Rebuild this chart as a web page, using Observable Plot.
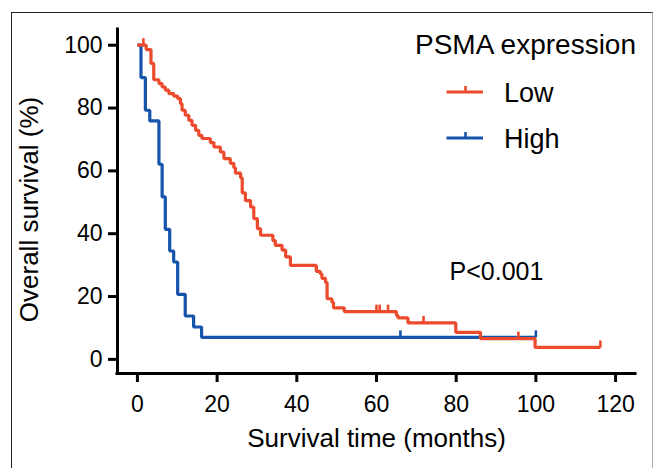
<!DOCTYPE html>
<html><head><meta charset="utf-8">
<script src="https://cdn.jsdelivr.net/npm/d3@7"></script>
<script src="https://cdn.jsdelivr.net/npm/@observablehq/plot@0.6"></script>
<style>
html,body{margin:0;padding:0;background:#fff;}
body{width:658px;height:468px;position:relative;overflow:hidden;font-family:"Liberation Sans",Arial,Helvetica,sans-serif;}
#chart{position:absolute;left:0;top:0;}
#frame{position:absolute;left:11px;top:12px;width:640px;height:470px;border-left:1.5px solid #222;border-top:1.5px solid #222;border-right:1px solid #aaa;pointer-events:none;}
#legend{position:absolute;left:0;top:0;pointer-events:none;}
</style></head><body>
<div id="chart"></div>
<div id="frame"></div>
<svg id="legend" width="658" height="468"></svg>
<script>
// ---- data ----
const groups = ["Low", "High"];
const groupColors = ["#EC4A2C", "#1653AA"];
const legendTitle = "PSMA expression";

const lowTime = [0, 2.2, 3.4, 4.1, 5.4, 6.2, 7.0, 7.9, 9.1, 10.1, 10.8, 11.2, 12.0, 12.9, 13.7, 14.6, 15.4, 16.2, 18.3, 19.2, 20.8, 21.7, 23.3, 24.2, 24.6, 25.9, 26.3, 27.1, 28.4, 29.2, 30.1, 30.9, 34.0, 34.6, 36.3, 37.2, 38.4, 44.9, 45.9, 46.3, 47.2, 47.6, 48.8, 49.2, 51.9, 65.0, 65.4, 67.9, 79.9, 86.1, 99.8, 116.2];
const lowSurv = [100, 98.6, 94.2, 89.0, 87.8, 86.7, 85.7, 84.6, 83.8, 83.0, 81.4, 79.3, 77.7, 76.1, 74.5, 72.9, 71.3, 70.3, 69.0, 67.6, 66.0, 63.9, 62.4, 61.0, 59.3, 57.8, 53.0, 50.5, 48.5, 44.8, 41.6, 39.5, 37.8, 36.3, 34.8, 32.6, 29.9, 28.0, 27.2, 25.8, 24.5, 19.3, 18.2, 16.4, 15.2, 14.0, 13.2, 11.6, 8.6, 6.6, 3.8, 3.8];
const lowCensorTime = [1.5, 60.0, 60.8, 62.9, 71.8, 95.6, 116.2];
const lowCensorSurv = [100, 15.2, 15.2, 15.2, 11.6, 6.6, 3.8];

const highTime = [0, 0.9, 2.0, 3.1, 5.4, 6.2, 7.0, 8.1, 9.1, 10.1, 12.0, 14.1, 16.1, 100];
const highSurv = [100, 89.7, 79.3, 75.9, 62.1, 51.7, 41.4, 34.5, 31.0, 20.7, 13.8, 10.3, 7.0, 7.0];
const highCensorTime = [66.0, 100];
const highCensorSurv = [7.0, 7.0];

const xTicks = [0, 20, 40, 60, 80, 100, 120];
const yTicks = [0, 20, 40, 60, 80, 100];
const xDomain = [-5, 125];
const yDomain = [-4.5, 105];
const xLabel = "Survival time (months)";
const yLabel = "Overall survival (%)";
const pText = "P<0.001";
const pAt = {t: 90.1, s: 27.9};

// ---- build tables ----
const low = lowTime.map((t, i) => ({t, s: lowSurv[i], g: "Low"}));
const high = highTime.map((t, i) => ({t, s: highSurv[i], g: "High"}));
const lowC = lowCensorTime.map((t, i) => ({t, s: lowCensorSurv[i], g: "Low"}));
const highC = highCensorTime.map((t, i) => ({t, s: highCensorSurv[i], g: "High"}));

const censorSymbol = {draw(ctx) { ctx.moveTo(0, 0); ctx.lineTo(0, -7); }};

const font = "'Liberation Sans', Arial, Helvetica, sans-serif";
const chart = Plot.plot({
  width: 658,
  height: 468,
  marginLeft: 117,
  marginRight: 23,
  marginTop: 29,
  marginBottom: 95,
  style: {fontFamily: font, color: "#000", background: "transparent", overflow: "visible"},
  x: {domain: xDomain},
  y: {domain: yDomain},
  color: {domain: groups, range: groupColors},
  marks: [
    Plot.line(high, {x: "t", y: "s", stroke: "g", curve: "step-after", strokeWidth: 3.2, strokeLinejoin: "miter", strokeLinecap: "butt"}),
    Plot.dot(highC, {x: "t", y: "s", stroke: "g", symbol: censorSymbol, strokeWidth: 2.6, fill: "none"}),
    Plot.line(low, {x: "t", y: "s", stroke: "g", curve: "step-after", strokeWidth: 3.2, strokeLinejoin: "miter", strokeLinecap: "butt"}),
    Plot.dot(lowC, {x: "t", y: "s", stroke: "g", symbol: censorSymbol, strokeWidth: 2.6, fill: "none"}),
    Plot.ruleY([yDomain[0]], {strokeWidth: 3, strokeLinecap: "square"}),
    Plot.ruleX([xDomain[0]], {strokeWidth: 3, strokeLinecap: "square"}),
    Plot.axisX({ticks: xTicks, tickSize: 9, tickPadding: 13, strokeWidth: 3, fontSize: 23, label: null, tickFormat: d => String(d)}),
    Plot.axisY({ticks: yTicks, tickSize: 9, tickPadding: 6, strokeWidth: 3, fontSize: 23, label: null, tickFormat: d => String(d)}),
    Plot.text([xLabel], {frameAnchor: "bottom", dy: 73, text: d => d, fontSize: 26, fill: "#000", textAnchor: "middle"}),
    Plot.text([yLabel], {frameAnchor: "left", dx: -88, dy: 8, rotate: -90, text: d => d, fontSize: 26, fill: "#000", textAnchor: "middle"}),
    Plot.text([pText], {x: () => pAt.t, y: () => pAt.s, text: d => d, fontSize: 25, fill: "#000"})
  ]
});
document.getElementById("chart").appendChild(chart);

// ---- legend ----
const lg = d3.select("#legend").style("font-family", font);
lg.append("text").attr("x", 415).attr("y", 54).attr("font-size", 28).attr("fill", "#000").text(legendTitle);
groups.forEach((g, i) => {
  const cy = 92 + i * 46;
  lg.append("line").attr("x1", 446.5).attr("x2", 483).attr("y1", cy).attr("y2", cy)
    .attr("stroke", groupColors[i]).attr("stroke-width", 3.2);
  lg.append("line").attr("x1", 465.5).attr("x2", 465.5).attr("y1", cy).attr("y2", cy - 6)
    .attr("stroke", groupColors[i]).attr("stroke-width", 2.6);
  lg.append("text").attr("x", 504).attr("y", cy + 10).attr("font-size", 27).attr("fill", "#000").text(g);
});
</script>
</body></html>
